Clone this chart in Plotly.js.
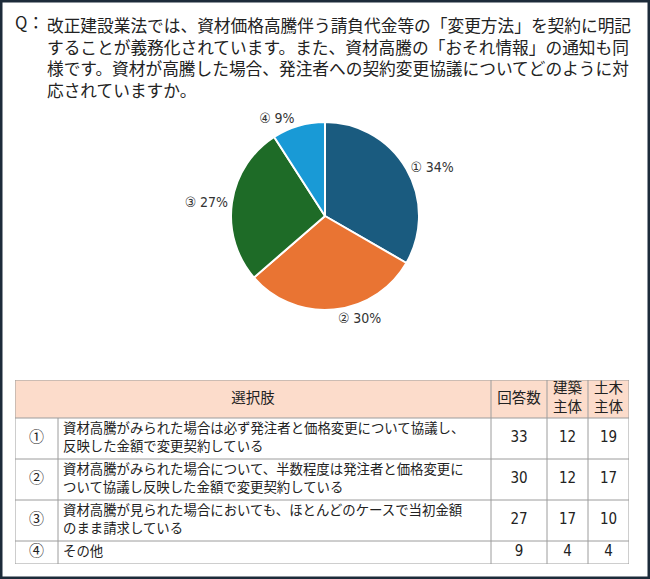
<!DOCTYPE html>
<html>
<head>
<meta charset="utf-8">
<script src="https://cdn.plot.ly/plotly-3.0.1.min.js"></script>
<style>
  html, body { margin: 0; padding: 0; background: #fff; }
  #chart { width: 650px; height: 579px; }
</style>
</head>
<body>
<div id="chart"></div>
<script>
// Question text (split into the lines used in the original)
const questionLines = [
  '改正建設業法では、資材価格高騰伴う請負代金等の「変更方法」を契約に明記',
  'することが義務化されています。また、資材高騰の「おそれ情報」の通知も同',
  '様です。資材が高騰した場合、発注者への契約変更協議についてどのように対',
  '応されていますか。'
];

// Choices
const choiceMarks = ['①', '②', '③', '④'];
const choiceTexts = [
  '資材高騰がみられた場合は必ず発注者と価格変更について協議し、<br>反映した金額で変更契約している',
  '資材高騰がみられた場合について、半数程度は発注者と価格変更に<br>ついて協議し反映した金額で変更契約している',
  '資材高騰が見られた場合においても、ほとんどのケースで当初金額<br>のまま請求している',
  'その他'
];
const answerCounts = [33, 30, 27, 9];
const buildingCounts = [12, 12, 17, 4];
const civilCounts = [19, 17, 10, 4];
const pctLabels = ['34%', '30%', '27%', '9%'];

const headerLabels = ['選択肢', '回答数', '建築<br>主体', '土木<br>主体'];

const sliceColors = ['#1a5b7f', '#e97433', '#1e6b27', '#199ad6'];
const headerFill = '#fcdccb';
const gridColor = '#9c9c9c';
const textColor = '#222222';
const jpFont = '"Noto Sans CJK JP", "Noto Sans", sans-serif';
const narrowFont = '"Liberation Sans Narrow", "DejaVu Sans Condensed", "Noto Sans CJK JP", sans-serif';

// figure is 650 x 579, margins are zero so paper == pixels / size
const W = 650, H = 579;
const px = v => v / W;
const py = v => 1 - v / H;

// ---- table geometry (axis units == pixels inside the table box) ----
const colWidths = [43, 433, 56, 41, 41];
const headerHeight = 38;
const rowHeights = choiceTexts.map(t => t.split('<br>').length > 1 ? 41 : 23);

const colEdges = [0];
colWidths.forEach(w => colEdges.push(colEdges[colEdges.length - 1] + w));
const rowEdges = [0, headerHeight];
rowHeights.forEach(h => rowEdges.push(rowEdges[rowEdges.length - 1] + h));
const tableW = colEdges[colEdges.length - 1];
const tableH = rowEdges[rowEdges.length - 1];

const colMid = i => (colEdges[i] + colEdges[i + 1]) / 2;
const rowMids = rowHeights.map((h, i) => (rowEdges[i + 1] + rowEdges[i + 2]) / 2);
const headerMid = headerHeight / 2;

const pie = {
  type: 'pie',
  values: answerCounts,
  labels: choiceMarks,
  text: choiceMarks.map((m, i) => m + ' ' + pctLabels[i]),
  textinfo: 'text',
  textposition: 'outside',
  sort: false,
  direction: 'clockwise',
  rotation: 0,
  marker: { colors: sliceColors, line: { color: '#ffffff', width: 2 } },
  textfont: { family: narrowFont, size: 14, color: '#333333' },
  domain: { x: [px(195), px(455)], y: [py(310), py(122)] },
  hoverinfo: 'none',
  showlegend: false
};

const textTrace = (x, y, text, pos, font) => ({
  type: 'scatter', mode: 'text',
  x, y, text,
  textposition: pos,
  textfont: font,
  cliponaxis: false,
  hoverinfo: 'none',
  showlegend: false,
  xaxis: 'x', yaxis: 'y'
});

const headerTrace = textTrace(
  [colEdges[2] / 2, colMid(2), colMid(3), colMid(4)],
  headerLabels.map(() => headerMid),
  headerLabels, 'middle center',
  { family: jpFont, size: 14.5, color: textColor }
);
const markTrace = textTrace(
  choiceMarks.map(() => colMid(0)), rowMids, choiceMarks, 'middle center',
  { family: jpFont, size: 15, color: textColor }
);
const choiceTrace = textTrace(
  choiceTexts.map(() => colEdges[1] + 5), rowMids, choiceTexts, 'middle right',
  { family: jpFont, size: 13.4, color: textColor }
);
const numFont = { family: narrowFont, size: 15, color: textColor };
const answerTrace = textTrace(answerCounts.map(() => colMid(2)), rowMids, answerCounts.map(String), 'middle center', numFont);
const buildingTrace = textTrace(buildingCounts.map(() => colMid(3)), rowMids, buildingCounts.map(String), 'middle center', numFont);
const civilTrace = textTrace(civilCounts.map(() => colMid(4)), rowMids, civilCounts.map(String), 'middle center', numFont);

// grid lines and header fill
const shapes = [
  {
    type: 'rect', xref: 'x', yref: 'y', layer: 'below',
    x0: 0, x1: tableW, y0: 0, y1: headerHeight,
    fillcolor: headerFill, line: { width: 0 }
  }
];
rowEdges.forEach(y => shapes.push({
  type: 'line', xref: 'x', yref: 'y', layer: 'above',
  x0: 0, x1: tableW, y0: y, y1: y,
  line: { color: gridColor, width: 1 }
}));
colEdges.forEach((x, i) => shapes.push({
  type: 'line', xref: 'x', yref: 'y', layer: 'above',
  x0: x, x1: x, y0: i === 1 ? headerHeight : 0, y1: tableH,
  line: { color: gridColor, width: 1 }
}));
// outer frame
shapes.push({
  type: 'rect', xref: 'paper', yref: 'paper',
  x0: 0, x1: 1, y0: 0, y1: 1,
  line: { color: '#1d2b3a', width: 5 },
  layer: 'above'
});

const layout = {
  width: W,
  height: H,
  margin: { l: 0, r: 0, t: 0, b: 0 },
  paper_bgcolor: '#ffffff',
  plot_bgcolor: 'rgba(0,0,0,0)',
  font: { family: jpFont, color: textColor },
  showlegend: false,
  xaxis: {
    domain: [px(15), px(15 + tableW)],
    range: [0, tableW],
    visible: false, fixedrange: true
  },
  yaxis: {
    domain: [py(380 + tableH), py(380)],
    range: [tableH, 0],
    visible: false, fixedrange: true
  },
  annotations: [
    {
      text: 'Q：',
      xref: 'paper', yref: 'paper',
      x: px(46), y: py(22),
      xanchor: 'right', yanchor: 'middle',
      showarrow: false,
      font: { family: jpFont, size: 16.7, color: textColor }
    },
    {
      text: questionLines.join('<br>'),
      xref: 'paper', yref: 'paper',
      x: px(45), y: py(11),
      xanchor: 'left', yanchor: 'top',
      align: 'left',
      showarrow: false,
      font: { family: jpFont, size: 16.7, color: textColor }
    }
  ],
  shapes: shapes
};

Plotly.newPlot('chart',
  [pie, headerTrace, markTrace, choiceTrace, answerTrace, buildingTrace, civilTrace],
  layout, { displayModeBar: false, staticPlot: true });
</script>
</body>
</html>
